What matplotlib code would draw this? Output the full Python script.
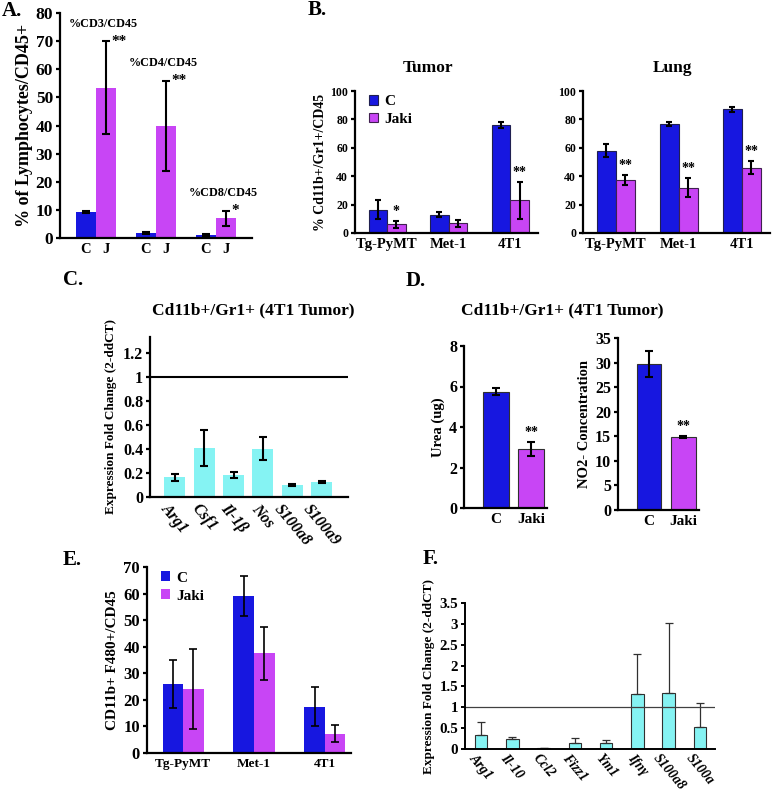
import matplotlib.pyplot as plt
import numpy as np

plt.rcParams['font.family'] = ['Liberation Serif', 'DejaVu Serif']
plt.rcParams['font.weight'] = 'bold'
plt.rcParams['axes.labelweight'] = 'bold'

BLUE = '#1717e0'
PINK = '#c845f5'
CYAN = '#85f3f3'

# ---- data ----
# A: lymphocytes
a_groups = ['%CD3/CD45', '%CD4/CD45', '%CD8/CD45']
a_c = [9.3, 1.8, 1.0]
a_c_err = [0.3, 0.4, 0.4]
a_j = [53.5, 40.0, 7.0]
a_j_err = [16.5, 16.0, 2.7]
a_stars = ['**', '**', '*']

# B: Cd11b+/Gr1+ in tumor and lung
b_cells = ['Tg-PyMT', 'Met-1', '4T1']
tumor_c = [16.5, 13.0, 76.0]
tumor_c_err = [6.5, 2.0, 2.0]
tumor_j = [6.0, 7.0, 23.0]
tumor_j_err = [2.5, 2.5, 13.0]
tumor_stars = ['*', '', '**']
lung_c = [58.0, 77.0, 87.0]
lung_c_err = [4.5, 1.5, 1.5]
lung_j = [37.5, 32.0, 46.0]
lung_j_err = [3.5, 7.0, 4.5]
lung_stars = ['**', '**', '**']

# C: qPCR 4T1 tumor
c_genes = ['Arg1', 'Csf1', 'Il-1\u03b2', 'Nos', 'S100a8', 'S100a9']
c_vals = [0.165, 0.41, 0.18, 0.40, 0.10, 0.125]
c_err = [0.03, 0.15, 0.025, 0.095, 0.012, 0.012]

# D: urea and NO2-
d_groups = ['C', 'Jaki']
urea = [5.75, 2.9]
urea_err = [0.17, 0.35]
no2 = [29.7, 14.8]
no2_err = [2.6, 0.25]

# E: CD11b+ F480+
e_c = [26.0, 59.0, 17.5]
e_c_err = [9.0, 7.5, 7.5]
e_j = [24.0, 37.5, 7.3]
e_j_err = [15.0, 10.0, 3.3]

# F: qPCR
f_genes = ['Arg1', 'Il-10', 'Ccl2', 'Fizz1', 'Ym1', 'Ifn\u03b3', 'S100a8', 'S100a']
f_vals = [0.33, 0.23, 0.02, 0.14, 0.14, 1.31, 1.34, 0.53]
f_err = [0.31, 0.05, 0.005, 0.12, 0.07, 0.97, 1.68, 0.57]

# ---- layout ----
W, H = 773, 792
fig = plt.figure(figsize=(W / 100, H / 100), dpi=100)


def box(l, t, r, b):
    return fig.add_axes([l / W, 1 - b / H, (r - l) / W, (b - t) / H])


def ftext(x, y, s, **kw):
    fig.text(x / W, 1 - y / H, s, **kw)


def style(ax, size=9, lw=1.6):
    for s in ['top', 'right']:
        ax.spines[s].set_visible(False)
    for s in ['left', 'bottom']:
        ax.spines[s].set_linewidth(lw)
    ax.tick_params(axis='y', length=3, width=lw, labelsize=size, pad=2)
    ax.tick_params(axis='x', length=0, labelsize=size)


def ebar(ax, x, y, e, cap=3, lw=1.5):
    ax.errorbar(x, y, yerr=e, fmt='none', ecolor='black', capsize=cap,
                elinewidth=lw, capthick=lw)


# ---- A ----
ax = box(60, 13, 252, 238)
x = np.arange(3)
ax.bar(x - 0.167, a_c, 0.333, color=BLUE)
ax.bar(x + 0.167, a_j, 0.333, color=PINK)
ebar(ax, x - 0.167, a_c, a_c_err)
ebar(ax, x + 0.167, a_j, a_j_err)
ax.set_xlim(-0.6, 2.6)
ax.set_ylim(0, 80)
ax.set_yticks(range(0, 81, 10))
ax.set_xticks(np.concatenate([x - 0.167, x + 0.167]))
ax.set_xticklabels(['C'] * 3 + ['J'] * 3)
style(ax, size=12.5)
ax.tick_params(axis='x', labelsize=10.5)
ax.set_ylabel('% of Lymphocytes/CD45+', fontsize=13, labelpad=2)
for i in range(3):
    top = a_j[i] + a_j_err[i]
    ax.text(i + 0.12, top + 4, a_groups[i], ha='center', va='bottom', fontsize=8.7)
    ax.text(i + 0.26, top, a_stars[i], ha='left', va='center', fontsize=11)
ftext(2, 11, 'A.', fontsize=15, va='center')

# ---- B ----
for (l, r), cv, ce, jv, je, st, title, tx in [
        ((355, 538), tumor_c, tumor_c_err, tumor_j, tumor_j_err, tumor_stars, 'Tumor', 428),
        ((583, 770), lung_c, lung_c_err, lung_j, lung_j_err, lung_stars, 'Lung', 672)]:
    ax = box(l, 91, r, 233)
    x = np.arange(3)
    ax.bar(x - 0.15, cv, 0.3, color=BLUE, edgecolor='#202050', linewidth=0.8, label='C')
    ax.bar(x + 0.15, jv, 0.3, color=PINK, edgecolor='#402050', linewidth=0.8, label='Jaki')
    ebar(ax, x - 0.15, cv, ce, cap=2.5)
    ebar(ax, x + 0.15, jv, je, cap=2.5)
    ax.set_xlim(-0.52, 2.45)
    ax.set_ylim(0, 100)
    ax.set_yticks(range(0, 101, 20))
    ax.set_xticks(x)
    ax.set_xticklabels(b_cells)
    style(ax, size=8.5)
    ax.tick_params(axis='x', labelsize=10.5)
    for i in range(3):
        if st[i]:
            ax.text(i + 0.15, jv[i] + je[i] + 2, st[i], ha='center', va='bottom', fontsize=10)
    ftext(tx, 68, title, ha='center', va='center', fontsize=12.5)
    if title == 'Tumor':
        ax.set_ylabel('% Cd11b+/Gr1+/CD45', fontsize=10, labelpad=2)
        ax.legend(loc='upper left', bbox_to_anchor=(0.0, 1.07), frameon=False,
                  fontsize=11, handlelength=0.6, handleheight=0.6,
                  handletextpad=0.4, labelspacing=0.3)
ftext(308, 10, 'B.', fontsize=15, va='center')

# ---- C ----
ax = box(150, 337, 348, 497)
x = np.arange(len(c_genes))
ax.bar(x, c_vals, 0.72, color=CYAN)
ebar(ax, x, c_vals, c_err, cap=3)
ax.axhline(1, color='black', lw=1.5)
ax.set_xlim(-0.85, 5.9)
ax.set_ylim(0, 1.33)
ax.set_yticks(np.arange(0, 1.21, 0.2))
ax.set_yticklabels(['0', '0.2', '0.4', '0.6', '0.8', '1', '1.2'])
ax.set_xticks(x)
ax.set_xticklabels(c_genes, rotation=-50, ha='center', va='top', style='italic')
style(ax, size=11.5)
ax.tick_params(axis='x', pad=3)
ax.set_ylabel('Expression Fold Change (2-ddCT)', fontsize=9.5, labelpad=4)
ftext(63, 280, 'C.', fontsize=15, va='center')
ftext(253, 310, 'Cd11b+/Gr1+ (4T1 Tumor)', ha='center', va='center', fontsize=12.5)

# ---- D ----
for (l, t, r, b), vals, errs, ylab, yt in [
        ((464, 346, 547, 508), urea, urea_err, 'Urea (ug)', range(0, 9, 2)),
        ((618, 338, 699, 510), no2, no2_err, 'NO2- Concentration', range(0, 36, 5))]:
    ax = box(l, t, r, b)
    x = np.arange(2)
    ax.bar(x, vals, 0.72, color=[BLUE, PINK], edgecolor='#303030', linewidth=0.8)
    ebar(ax, x, vals, errs, cap=3)
    ax.set_xlim(-0.9, 1.45)
    ax.set_ylim(0, max(yt))
    ax.set_yticks(list(yt))
    ax.set_xticks(x)
    ax.set_xticklabels(d_groups)
    style(ax, size=11.5)
    ax.tick_params(axis='x', labelsize=11)
    ax.set_ylabel(ylab, fontsize=10.5, labelpad=3)
    ax.text(1, vals[1] + errs[1] + max(yt) * 0.02, '**', ha='center', va='bottom', fontsize=10)
ftext(406, 281, 'D.', fontsize=15, va='center')
ftext(562, 310, 'Cd11b+/Gr1+ (4T1 Tumor)', ha='center', va='center', fontsize=12.5)

# ---- E ----
ax = box(147, 567, 351, 753)
x = np.arange(3)
ax.bar(x - 0.145, e_c, 0.29, color=BLUE, label='C')
ax.bar(x + 0.145, e_j, 0.29, color=PINK, label='Jaki')
ebar(ax, x - 0.145, e_c, e_c_err, cap=3, lw=1.2)
ebar(ax, x + 0.145, e_j, e_j_err, cap=3, lw=1.2)
ax.set_xlim(-0.51, 2.37)
ax.set_ylim(0, 70)
ax.set_yticks(range(0, 71, 10))
ax.set_xticks(x)
ax.set_xticklabels(b_cells)
style(ax, size=12)
ax.tick_params(axis='x', labelsize=9.5)
ax.set_ylabel('CD11b+ F480+/CD45', fontsize=11, labelpad=3)
ax.legend(loc='upper left', bbox_to_anchor=(0.0, 1.05), frameon=False,
          fontsize=11, handlelength=0.6, handleheight=0.6,
          handletextpad=0.4, labelspacing=0.3)
ftext(63, 560, 'E.', fontsize=15, va='center')

# ---- F ----
ax = box(465, 603, 715, 749)
x = np.arange(len(f_genes))
ax.bar(x, f_vals, 0.4, color=CYAN, edgecolor='#303030', linewidth=0.8)
ax.errorbar(x, f_vals, yerr=[np.zeros(len(f_err)), f_err], fmt='none',
            ecolor='#303030', capsize=3, elinewidth=0.9, capthick=0.9)
ax.axhline(1, color='#404040', lw=0.9)
ax.set_xlim(-0.51, 7.48)
ax.set_ylim(0, 3.5)
ax.set_yticks(np.arange(0, 3.51, 0.5))
ax.set_yticklabels(['0', '0.5', '1', '1.5', '2', '2.5', '3', '3.5'])
ax.set_xticks(x)
ax.set_xticklabels(f_genes, rotation=-50, ha='center', va='top', style='italic')
style(ax, size=10.8, lw=1.4)
ax.tick_params(axis='x', pad=2, labelsize=10)
ax.set_ylabel('Expression Fold Change (2-ddCT)', fontsize=9.5, labelpad=3)
ftext(423, 559, 'F.', fontsize=15, va='center')

fig.savefig('out.png', dpi=100)
